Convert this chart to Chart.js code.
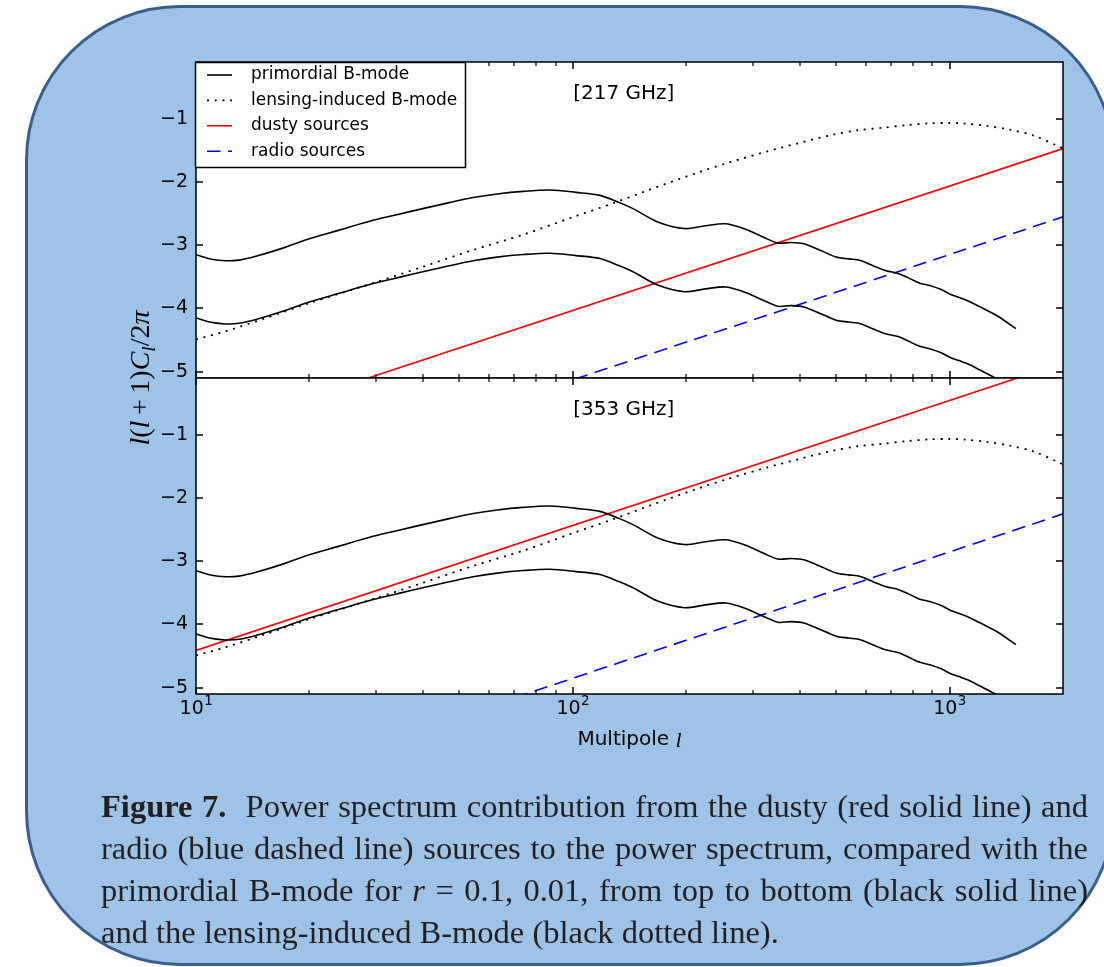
<!DOCTYPE html>
<html><head><meta charset="utf-8">
<script src="https://cdn.jsdelivr.net/npm/chart.js@4.4.0/dist/chart.umd.min.js"></script>
<style>
html,body{margin:0;padding:0;background:#fff;}
body{width:1104px;height:967px;overflow:hidden;position:relative;}
#box{position:absolute;left:25px;top:5px;width:1090px;height:961px;box-sizing:border-box;border:3px solid #3a5d8f;border-radius:155px;background:#9dc3e6;}
canvas{position:absolute;left:0;top:0;}
#cap{position:absolute;left:101px;top:785px;width:987px;font-family:"Liberation Serif","Times New Roman",serif;font-size:32.5px;line-height:42px;color:#231f20;}
#cap div{white-space:nowrap;text-align:justify;text-align-last:justify;}
#cap div.last{text-align:left;text-align-last:left;}
</style></head>
<body>
<div id="box"></div>
<canvas id="c1" width="1104" height="967" style="width:1104px;height:967px"></canvas>
<canvas id="c2" width="1104" height="967" style="width:1104px;height:967px"></canvas>
<div id="cap">
<div><b>Figure 7.</b>&nbsp; Power spectrum contribution from the dusty (red solid line) and</div>
<div>radio (blue dashed line) sources to the power spectrum, compared with the</div>
<div>primordial B-mode for <i>r</i> = 0.1, 0.01, from top to bottom (black solid line)</div>
<div class="last">and the lensing-induced B-mode (black dotted line).</div>
</div>
<script>
// ---------- data (log10 of l(l+1)C_l/2pi) ----------
const ell = [10, 11, 12, 13, 14.5, 17, 19.7, 24, 29.5, 35, 40, 47, 54.4, 63, 73.8, 87, 102, 118, 133, 144.5, 168, 198, 225, 255, 290, 320, 350, 380, 410, 450, 500, 540, 580, 630, 680, 730, 780, 830, 890, 950, 1000, 1060, 1120, 1200, 1350, 1500];
const primordialR01 = [-3.15, -3.22, -3.245, -3.235, -3.17, -3.045, -2.91, -2.76, -2.605, -2.50, -2.42, -2.325, -2.245, -2.188, -2.147, -2.126, -2.163, -2.21, -2.325, -2.42, -2.63, -2.735, -2.69, -2.66, -2.755, -2.87, -2.965, -2.955, -2.975, -3.07, -3.185, -3.215, -3.24, -3.33, -3.405, -3.445, -3.52, -3.595, -3.64, -3.70, -3.77, -3.825, -3.88, -3.97, -4.13, -4.32];
const primordialR001 = [-4.15, -4.22, -4.245, -4.235, -4.17, -4.045, -3.91, -3.76, -3.605, -3.50, -3.42, -3.325, -3.245, -3.188, -3.147, -3.126, -3.163, -3.21, -3.325, -3.42, -3.63, -3.735, -3.69, -3.66, -3.755, -3.87, -3.965, -3.955, -3.975, -4.07, -4.185, -4.215, -4.24, -4.33, -4.405, -4.445, -4.52, -4.595, -4.64, -4.70, -4.77, -4.825, -4.88, -4.97, -5.13, -5.32];
const lensEll = [10, 12, 15, 20, 30, 40, 54, 74, 100, 130, 160, 217, 260, 326, 400, 490, 570, 665, 770, 885, 1000, 1100, 1250, 1445, 1666, 1940, 2000];
const lensing = [-4.49, -4.36, -4.17, -3.915, -3.585, -3.34, -3.08, -2.83, -2.555, -2.32, -2.12, -1.84, -1.69, -1.52, -1.38, -1.25, -1.18, -1.14, -1.10, -1.07, -1.065, -1.075, -1.11, -1.17, -1.26, -1.43, -1.47];
const lineEll = [10, 2000];
const dusty217 = [-6.00, -1.47];
const radio217 = [-7.11, -2.55];
const dusty353 = [-4.41, 0.14];
const radio353 = [-6.85, -2.25];
const xMajorTicks = [10, 100, 1000];
const xMinorTicks = [20, 30, 40, 50, 60, 70, 80, 90, 200, 300, 400, 500, 600, 700, 800, 900];
const yTickValues = [-1, -2, -3, -4, -5];
const panelLabels = ['[217 GHz]', '[353 GHz]'];
const legendLabels = ['primordial B-mode', 'lensing-induced B-mode', 'dusty sources', 'radio sources'];
// ---------------------------------------------------

const STY = {
  prim: {color:'#000', width:1.6, dash:[]},
  lens: {color:'#000', width:1.8, dash:[2, 5.7]},
  dusty: {color:'#ff0000', width:1.6, dash:[]},
  radio: {color:'#0000ff', width:1.6, dash:[13.5, 7.5]}
};
function ds(xs, ys, st, smooth){
  return {data: xs.map((x,i)=>({x:x, y:ys[i]})), borderColor: st.color, borderWidth: st.width,
    borderDash: st.dash, borderCapStyle:'butt', pointRadius:0, fill:false, clip:0,
    tension: smooth?0.3:0, cubicInterpolationMode:'default'};
}
function fmtMinus(v){ return v<0 ? '\u2212'+Math.abs(v) : String(v); }

function drawYLabel(c, cx, cy){
  const fs = 28;
  const it = 'italic '+fs+'px "Liberation Serif"', rm = fs+'px "Liberation Serif"', sub = 'italic '+(fs*0.7)+'px "Liberation Serif"';
  const parts = [['l',it,0],['(',rm,0],['l',it,0],['\u2009+\u2009',rm,0],['1',rm,0],[')',rm,0],['C',it,0],['l',sub,fs*0.2],['/',rm,0],['2',rm,0],['\u03c0',it,0]];
  c.save();
  let tot=0; parts.forEach(p=>{c.font=p[1]; tot+=c.measureText(p[0]).width;});
  c.translate(cx, cy); c.rotate(-Math.PI/2);
  c.fillStyle='#000'; c.textBaseline='alphabetic'; c.textAlign='left';
  let x=-tot/2;
  parts.forEach(p=>{c.font=p[1]; c.fillText(p[0], x, fs*0.3+p[2]); x+=c.measureText(p[0]).width;});
  c.restore();
}
function drawXLabel(c, cx, cy){
  c.save(); c.fillStyle='#000'; c.textBaseline='middle'; c.textAlign='left';
  const a='20px "DejaVu Sans"', b='italic 22px "Liberation Serif"';
  c.font=a; const w1=c.measureText('Multipole ').width; c.font=b; const w2=c.measureText('l').width;
  let x=cx-(w1+w2)/2; c.font=a; c.fillText('Multipole ', x, cy); c.font=b; c.fillText('l', x+w1, cy+1);
  c.restore();
}
function drawXTickLabels(c, xs, y){
  c.save(); c.fillStyle='#000'; c.textAlign='left'; c.textBaseline='middle';
  const fb='19px "DejaVu Sans"', fe='13.5px "DejaVu Sans"';
  xMajorTicks.forEach(v=>{
    const x=xs.getPixelForValue(v), e=String(Math.round(Math.log10(v)));
    c.font=fb; const w1=c.measureText('10').width; c.font=fe; const w2=c.measureText(e).width;
    const x0=x-(w1+w2)/2;
    c.font=fb; c.fillText('10', x0, y);
    c.font=fe; c.fillText(e, x0+w1+0.5, y-8);
  });
  c.restore();
}

function panelPlugin(idx){
  return {
    id:'panel'+idx,
    beforeDraw(chart){ const a=chart.chartArea, c=chart.ctx; c.save(); c.fillStyle='#fff'; c.fillRect(a.left,a.top,a.right-a.left,a.bottom-a.top); c.restore(); },
    afterDatasetsDraw(chart){
      const a=chart.chartArea, c=chart.ctx, xs=chart.scales.x, ys=chart.scales.y;
      c.save();
      c.strokeStyle='#000'; c.lineWidth=1.5; c.setLineDash([]);
      const seg=(x1,y1,x2,y2)=>{c.beginPath();c.moveTo(x1,y1);c.lineTo(x2,y2);c.stroke();};
      xMajorTicks.forEach(v=>{const x=Math.round(xs.getPixelForValue(v)); seg(x,a.top,x,a.top+7); seg(x,a.bottom,x,a.bottom-7);});
      c.lineWidth=1.2;
      xMinorTicks.forEach(v=>{const x=Math.round(xs.getPixelForValue(v)); seg(x,a.top,x,a.top+4); seg(x,a.bottom,x,a.bottom-4);});
      c.lineWidth=1.5;
      yTickValues.forEach(v=>{const y=Math.round(ys.getPixelForValue(v)); seg(a.left,y,a.left+7,y); seg(a.right,y,a.right-7,y);});
      c.strokeRect(a.left,a.top,a.right-a.left,a.bottom-a.top);
      c.fillStyle='#000'; c.font='20px "DejaVu Sans"'; c.textBaseline='middle'; c.textAlign='left';
      c.fillText(panelLabels[idx], a.left+0.435*(a.right-a.left), a.top+32);
      if(idx===0){
        const lx=a.left-0.5, ly=a.top+0.5, lw=270, lh=105;
        c.fillStyle='#fff'; c.fillRect(lx,ly,lw,lh);
        c.strokeStyle='#000'; c.lineWidth=1.5; c.strokeRect(lx,ly,lw,lh);
        const sts=[STY.prim,STY.lens,STY.dusty,STY.radio];
        sts.forEach((st,i)=>{
          const yy=a.top+13+i*25.4;
          c.strokeStyle=st.color; c.lineWidth=st.width; c.setLineDash(st.dash); c.lineCap='butt';
          seg(a.left+11,yy,a.left+36,yy);
          c.setLineDash([]);
          c.fillStyle='#000'; c.font='17px "DejaVu Sans"'; c.textBaseline='middle';
          c.fillText(legendLabels[i], a.left+55, yy);
        });
      } else {
        drawYLabel(c, 141, a.top);
        drawXLabel(c, (a.left+a.right)/2, 740);
        drawXTickLabels(c, xs, a.bottom+15);
      }
      c.restore();
    }
  };
}

function makeChart(id, idx, datasets){
  const bottom = idx===1;
  return new Chart(document.getElementById(id), {
    type:'line',
    data:{datasets:datasets},
    options:{
      responsive:false, animation:false, devicePixelRatio:1, events:[],
      layout:{padding:{left:0,right:41,top:bottom?378:62,bottom:bottom?213:589}},
      plugins:{legend:{display:false},tooltip:{enabled:false}},
      scales:{
        x:{type:'logarithmic',min:10,max:2000,
          grid:{display:false,drawTicks:false},border:{display:false},
          ticks:{display:false},
          afterBuildTicks:s=>{s.ticks=xMajorTicks.map(v=>({value:v}));},
          afterFit:s=>{s.height=bottom?60:0;}},
        y:{type:'linear',min:-5.1,max:-0.1,
          grid:{display:false,drawTicks:false},border:{display:false},
          ticks:{padding:8,color:'#000',font:{family:'DejaVu Sans',size:19},callback:(v)=>fmtMinus(v)},
          afterBuildTicks:s=>{s.ticks=yTickValues.map(v=>({value:v}));},
          afterFit:s=>{s.width=196;}}
      }
    },
    plugins:[panelPlugin(idx)]
  });
}

makeChart('c1', 0, [
  ds(ell, primordialR01, STY.prim, true),
  ds(ell, primordialR001, STY.prim, true),
  ds(lensEll, lensing, STY.lens, true),
  ds(lineEll, dusty217, STY.dusty, false),
  ds(lineEll, radio217, STY.radio, false)
]);
makeChart('c2', 1, [
  ds(ell, primordialR01, STY.prim, true),
  ds(ell, primordialR001, STY.prim, true),
  ds(lensEll, lensing, STY.lens, true),
  ds(lineEll, dusty353, STY.dusty, false),
  ds(lineEll, radio353, STY.radio, false)
]);
</script>
</body></html>
